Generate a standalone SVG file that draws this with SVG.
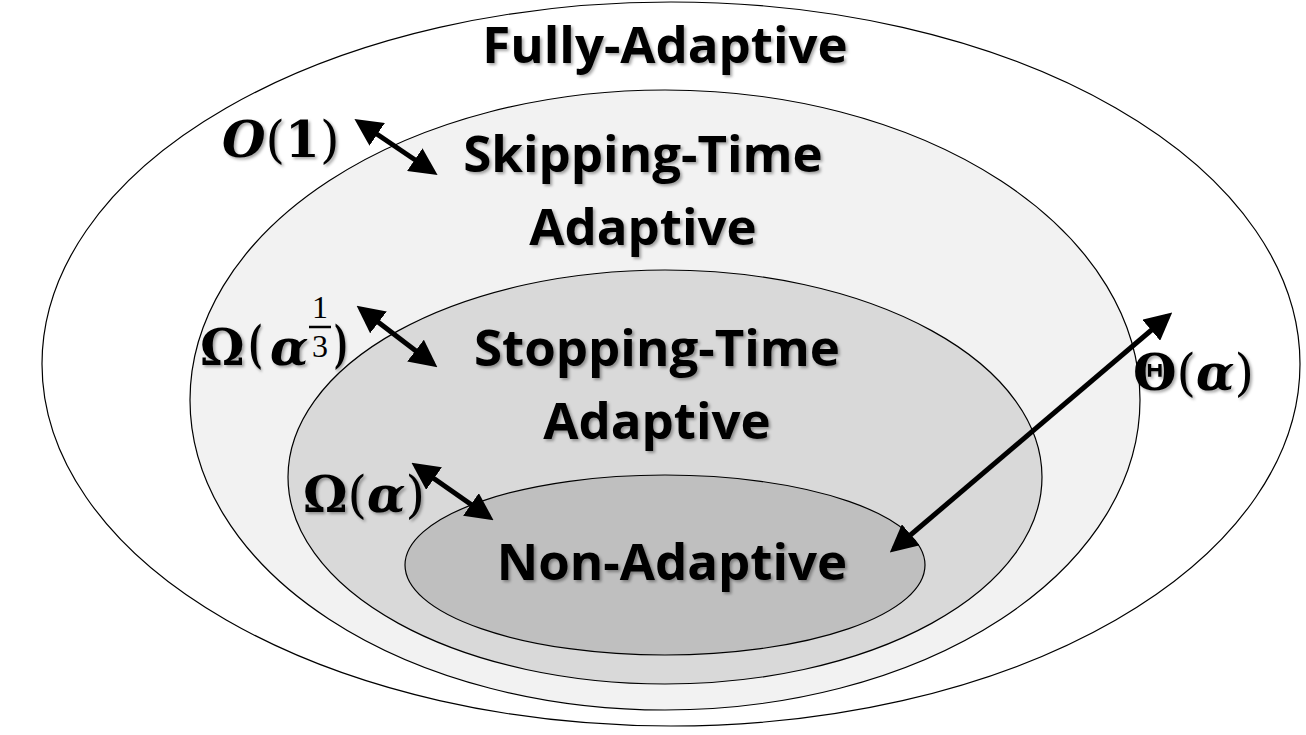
<svg xmlns="http://www.w3.org/2000/svg" width="1306" height="735" viewBox="0 0 1306 735">
<defs>
<filter id="sh" x="-10%" y="-20%" width="130%" height="150%"><feDropShadow dx="2" dy="2" stdDeviation="1.5" flood-color="#000" flood-opacity="0.35"/></filter>
<marker id="ah" viewBox="0 0 10 10" refX="8" refY="5" markerWidth="5.5" markerHeight="5.5" orient="auto-start-reverse"><path d="M0,0 L10,5 L0,10 z" fill="#000"/></marker>
</defs>
<style>
.e{stroke:#000;stroke-width:1.2}
.t{font-family:"Open Sans","Liberation Sans",sans-serif;font-weight:bold;font-size:51px;fill:#000;text-anchor:middle;filter:url(#sh)}
.m{font-family:"DejaVu Serif","Liberation Serif",serif;font-weight:bold;font-size:50px;fill:#000;filter:url(#sh)}
.a{stroke:#000;stroke-width:5;marker-start:url(#ah);marker-end:url(#ah)}
</style>
<rect width="1306" height="735" fill="#fff"/>
<g id="fully"><ellipse class="e" cx="671" cy="364" rx="629" ry="362" fill="#fff"/><text class="t" x="665" y="63">Fully-Adaptive</text></g>
<g id="skipping"><ellipse class="e" cx="665" cy="400" rx="475" ry="310" fill="#f2f2f2"/><text class="t" x="643" y="172">Skipping-Time</text><text class="t" x="643" y="245">Adaptive</text></g>
<g id="stopping"><ellipse class="e" cx="665" cy="477" rx="377" ry="207" fill="#d9d9d9"/><text class="t" x="657" y="366">Stopping-Time</text><text class="t" x="657" y="439">Adaptive</text></g>
<g id="non"><ellipse class="e" cx="665" cy="565" rx="260" ry="90" fill="#bfbfbf"/><text class="t" x="672" y="580">Non-Adaptive</text></g>
<g id="labels">
<text class="m" x="222" y="157"><tspan font-style="italic">O</tspan><tspan font-weight="normal">(</tspan>1<tspan font-weight="normal">)</tspan></text>
<text class="m" x="200" y="365">Ω</text>
<text class="m" font-weight="normal" font-size="84" transform="translate(248 362) scale(0.6 1)">(</text>
<text class="m" x="270" y="365" font-style="italic">α</text>
<text x="320" y="318" font-family="Liberation Serif,serif" font-size="32" text-anchor="middle">1</text>
<line x1="309" y1="327" x2="331" y2="327" stroke="#000" stroke-width="2.5"/>
<text x="320" y="357" font-family="Liberation Serif,serif" font-size="32" text-anchor="middle">3</text>
<text class="m" font-weight="normal" font-size="84" transform="translate(334 362) scale(0.6 1)">)</text>
<text class="m" x="303" y="512">Ω<tspan font-weight="normal">(</tspan><tspan font-style="italic">α</tspan><tspan font-weight="normal">)</tspan></text>
<text class="m" x="1133" y="390">Θ<tspan font-weight="normal">(</tspan><tspan font-style="italic">α</tspan><tspan font-weight="normal">)</tspan></text>
</g>
<g id="connectors">
<line class="a" x1="359" y1="122" x2="433" y2="172"/>
<line class="a" x1="361" y1="309" x2="433" y2="364"/>
<line class="a" x1="416" y1="466" x2="489" y2="517"/>
<line class="a" x1="1168" y1="316" x2="894" y2="549"/>
</g>
</svg>
